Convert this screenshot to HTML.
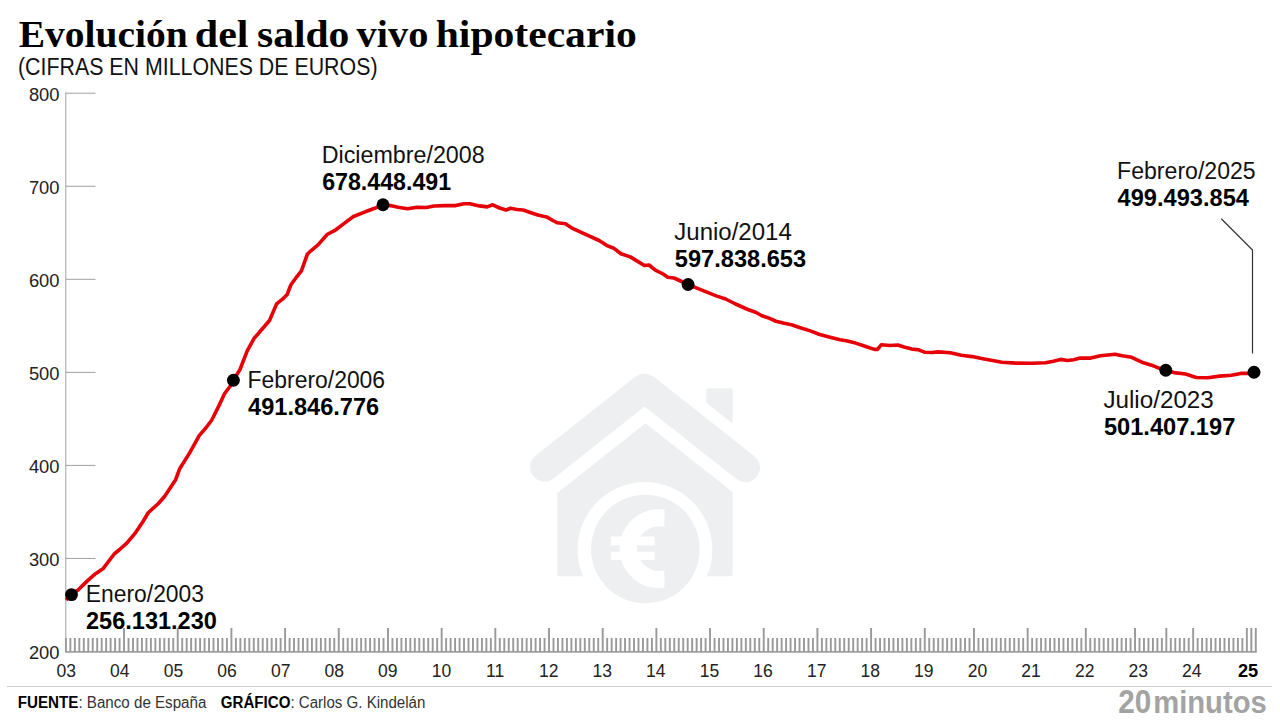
<!DOCTYPE html><html><head><meta charset="utf-8"><style>
html,body{margin:0;padding:0;background:#fff;width:1280px;height:720px;overflow:hidden}
svg{display:block}
text{font-family:"Liberation Sans",sans-serif}
</style></head><body>
<svg width="1280" height="720" viewBox="0 0 1280 720">
<rect width="1280" height="720" fill="#fff"/>
<path d="M557.3,493.0 L645.5,423.3 L732.6,492.1 L732.6,574.3 Q732.6,576.3 730.6,576.3 L559.3,576.3 Q557.3,576.3 557.3,574.3 Z" fill="#eeeff1"/>
<path d="M706.3,390.3 Q706.3,388.3 708.3,388.3 L730.7,388.3 Q732.7,388.3 732.7,390.3 L732.7,423.5 L706.3,402.8 Z" fill="#eeeff1"/>
<polyline points="544.5,467.1 644.6,388.0 745.5,467.7" fill="none" stroke="#eeeff1" stroke-width="29" stroke-linecap="round" stroke-linejoin="round"/>
<circle cx="645.0" cy="549.5" r="67.4" fill="#fff"/>
<circle cx="645.4" cy="549.0" r="54.3" fill="#eeeff1"/>
<path d="M664.4,509.34 A39.6,39.6 0 1 0 664.4,587.86 L664.4,570.29 A22.3,22.3 0 1 1 664.4,526.91 Z" fill="#fff"/>
<rect x="610.9" y="536.5" width="43.7" height="8.8" fill="#fff"/>
<rect x="610.9" y="551.8" width="43.7" height="8.1" fill="#fff"/>
<text x="18.65" y="47" font-size="37.5" font-weight="bold" textLength="169.15" lengthAdjust="spacingAndGlyphs" fill="#000" style="font-family:'Liberation Serif',serif">Evolución</text>
<text x="194.86" y="47" font-size="37.5" font-weight="bold" textLength="53.67" lengthAdjust="spacingAndGlyphs" fill="#000" style="font-family:'Liberation Serif',serif">del</text>
<text x="256.99" y="47" font-size="37.5" font-weight="bold" textLength="92.43" lengthAdjust="spacingAndGlyphs" fill="#000" style="font-family:'Liberation Serif',serif">saldo</text>
<text x="356.6" y="47" font-size="37.5" font-weight="bold" textLength="71.9" lengthAdjust="spacingAndGlyphs" fill="#000" style="font-family:'Liberation Serif',serif">vivo</text>
<text x="435.69" y="47" font-size="37.5" font-weight="bold" textLength="201.08" lengthAdjust="spacingAndGlyphs" fill="#000" style="font-family:'Liberation Serif',serif">hipotecario</text>
<text x="18" y="75" font-size="23.5" textLength="359.5" lengthAdjust="spacingAndGlyphs" fill="#111">(CIFRAS EN MILLONES DE EUROS)</text>
<line x1="65.8" y1="92.5" x2="65.8" y2="652" stroke="#a0a0a0" stroke-width="1"/>
<line x1="65.8" y1="93.20" x2="95.5" y2="93.20" stroke="#a0a0a0" stroke-width="1"/>
<line x1="65.8" y1="186.25" x2="95.5" y2="186.25" stroke="#a0a0a0" stroke-width="1"/>
<line x1="65.8" y1="279.30" x2="95.5" y2="279.30" stroke="#a0a0a0" stroke-width="1"/>
<line x1="65.8" y1="372.35" x2="95.5" y2="372.35" stroke="#a0a0a0" stroke-width="1"/>
<line x1="65.8" y1="465.40" x2="95.5" y2="465.40" stroke="#a0a0a0" stroke-width="1"/>
<line x1="65.8" y1="558.45" x2="95.5" y2="558.45" stroke="#a0a0a0" stroke-width="1"/>
<text x="28.9" y="101.10" font-size="17.5" fill="#222" textLength="30.6" lengthAdjust="spacingAndGlyphs">800</text>
<text x="28.9" y="194.15" font-size="17.5" fill="#222" textLength="30.6" lengthAdjust="spacingAndGlyphs">700</text>
<text x="28.9" y="287.20" font-size="17.5" fill="#222" textLength="30.6" lengthAdjust="spacingAndGlyphs">600</text>
<text x="28.9" y="380.25" font-size="17.5" fill="#222" textLength="30.6" lengthAdjust="spacingAndGlyphs">500</text>
<text x="28.9" y="473.30" font-size="17.5" fill="#222" textLength="30.6" lengthAdjust="spacingAndGlyphs">400</text>
<text x="28.9" y="566.35" font-size="17.5" fill="#222" textLength="30.6" lengthAdjust="spacingAndGlyphs">300</text>
<text x="28.9" y="659.40" font-size="17.5" fill="#222" textLength="30.6" lengthAdjust="spacingAndGlyphs">200</text>
<line x1="65.0" y1="651.9" x2="1256.6" y2="651.9" stroke="#a0a0a0" stroke-width="1.8"/>
<path d="M65.90,638V652M70.37,638V652M74.85,638V652M79.32,638V652M83.79,638V652M88.27,638V652M92.74,638V652M97.21,638V652M101.69,638V652M106.16,638V652M110.63,638V652M115.11,638V652M119.58,638V652M124.05,628V652M128.53,638V652M133.00,638V652M137.47,638V652M141.95,638V652M146.42,638V652M150.89,638V652M155.37,638V652M159.84,638V652M164.31,638V652M168.79,638V652M173.26,638V652M177.73,628V652M182.21,638V652M186.68,638V652M191.15,638V652M195.63,638V652M200.10,638V652M204.57,638V652M209.05,638V652M213.52,638V652M217.99,638V652M222.47,638V652M226.94,638V652M231.41,628V652M235.89,638V652M240.36,638V652M244.83,638V652M249.31,638V652M253.78,638V652M258.25,638V652M262.73,638V652M267.20,638V652M271.67,638V652M276.15,638V652M280.62,638V652M285.09,628V652M289.56,638V652M294.04,638V652M298.51,638V652M302.98,638V652M307.46,638V652M311.93,638V652M316.40,638V652M320.88,638V652M325.35,638V652M329.82,638V652M334.30,638V652M338.77,628V652M343.24,638V652M347.72,638V652M352.19,638V652M356.66,638V652M361.14,638V652M365.61,638V652M370.08,638V652M374.56,638V652M379.03,638V652M383.50,638V652M387.98,628V652M392.45,638V652M396.92,638V652M401.40,638V652M405.87,638V652M410.34,638V652M414.82,638V652M419.29,638V652M423.76,638V652M428.24,638V652M432.71,638V652M437.18,638V652M441.66,628V652M446.13,638V652M450.60,638V652M455.08,638V652M459.55,638V652M464.02,638V652M468.50,638V652M472.97,638V652M477.44,638V652M481.92,638V652M486.39,638V652M490.86,638V652M495.34,628V652M499.81,638V652M504.28,638V652M508.76,638V652M513.23,638V652M517.70,638V652M522.18,638V652M526.65,638V652M531.12,638V652M535.60,638V652M540.07,638V652M544.54,638V652M549.02,628V652M553.49,638V652M557.96,638V652M562.44,638V652M566.91,638V652M571.38,638V652M575.86,638V652M580.33,638V652M584.80,638V652M589.28,638V652M593.75,638V652M598.22,638V652M602.70,628V652M607.17,638V652M611.64,638V652M616.12,638V652M620.59,638V652M625.06,638V652M629.54,638V652M634.01,638V652M638.48,638V652M642.96,638V652M647.43,638V652M651.90,638V652M656.38,628V652M660.85,638V652M665.32,638V652M669.80,638V652M674.27,638V652M678.74,638V652M683.22,638V652M687.69,638V652M692.16,638V652M696.64,638V652M701.11,638V652M705.58,638V652M710.06,628V652M714.53,638V652M719.00,638V652M723.48,638V652M727.95,638V652M732.42,638V652M736.89,638V652M741.37,638V652M745.84,638V652M750.31,638V652M754.79,638V652M759.26,638V652M763.73,628V652M768.21,638V652M772.68,638V652M777.15,638V652M781.63,638V652M786.10,638V652M790.57,638V652M795.05,638V652M799.52,638V652M803.99,638V652M808.47,638V652M812.94,638V652M817.41,628V652M821.89,638V652M826.36,638V652M830.83,638V652M835.31,638V652M839.78,638V652M844.25,638V652M848.73,638V652M853.20,638V652M857.67,638V652M862.15,638V652M866.62,638V652M871.09,628V652M875.57,638V652M880.04,638V652M884.51,638V652M888.99,638V652M893.46,638V652M897.93,638V652M902.41,638V652M906.88,638V652M911.35,638V652M915.83,638V652M920.30,638V652M924.77,628V652M929.25,638V652M933.72,638V652M938.19,638V652M942.67,638V652M947.14,638V652M951.61,638V652M956.09,638V652M960.56,638V652M965.03,638V652M969.51,638V652M973.98,628V652M978.45,638V652M982.93,638V652M987.40,638V652M991.87,638V652M996.35,638V652M1000.82,638V652M1005.29,638V652M1009.77,638V652M1014.24,638V652M1018.71,638V652M1023.19,638V652M1027.66,628V652M1032.13,638V652M1036.61,638V652M1041.08,638V652M1045.55,638V652M1050.03,638V652M1054.50,638V652M1058.97,638V652M1063.45,638V652M1067.92,638V652M1072.39,638V652M1076.87,638V652M1081.34,638V652M1085.81,628V652M1090.29,638V652M1094.76,638V652M1099.23,638V652M1103.71,638V652M1108.18,638V652M1112.65,638V652M1117.13,638V652M1121.60,638V652M1126.07,638V652M1130.55,638V652M1135.02,628V652M1139.49,638V652M1143.97,638V652M1148.44,638V652M1152.91,638V652M1157.39,638V652M1161.86,638V652M1166.33,628V652M1170.81,638V652M1175.28,638V652M1179.75,638V652M1184.23,638V652M1188.70,638V652M1193.17,628V652M1197.64,638V652M1202.12,638V652M1206.59,638V652M1211.06,638V652M1215.54,638V652M1220.01,638V652M1224.48,638V652M1228.96,638V652M1233.43,638V652M1237.90,638V652M1242.38,638V652M1246.85,628V652M1251.32,628V652M1255.80,628V652" stroke="#999" stroke-width="1.9" fill="none"/>
<text x="66.25" y="677.2" font-size="17.5" text-anchor="middle" fill="#222">03</text>
<text x="119.85" y="677.2" font-size="17.5" text-anchor="middle" fill="#222">04</text>
<text x="173.45" y="677.2" font-size="17.5" text-anchor="middle" fill="#222">05</text>
<text x="227.05" y="677.2" font-size="17.5" text-anchor="middle" fill="#222">06</text>
<text x="280.65" y="677.2" font-size="17.5" text-anchor="middle" fill="#222">07</text>
<text x="334.25" y="677.2" font-size="17.5" text-anchor="middle" fill="#222">08</text>
<text x="387.85" y="677.2" font-size="17.5" text-anchor="middle" fill="#222">09</text>
<text x="441.45" y="677.2" font-size="17.5" text-anchor="middle" fill="#222">10</text>
<text x="495.05" y="677.2" font-size="17.5" text-anchor="middle" fill="#222">11</text>
<text x="548.65" y="677.2" font-size="17.5" text-anchor="middle" fill="#222">12</text>
<text x="602.25" y="677.2" font-size="17.5" text-anchor="middle" fill="#222">13</text>
<text x="655.85" y="677.2" font-size="17.5" text-anchor="middle" fill="#222">14</text>
<text x="709.45" y="677.2" font-size="17.5" text-anchor="middle" fill="#222">15</text>
<text x="763.05" y="677.2" font-size="17.5" text-anchor="middle" fill="#222">16</text>
<text x="816.65" y="677.2" font-size="17.5" text-anchor="middle" fill="#222">17</text>
<text x="870.25" y="677.2" font-size="17.5" text-anchor="middle" fill="#222">18</text>
<text x="923.85" y="677.2" font-size="17.5" text-anchor="middle" fill="#222">19</text>
<text x="977.45" y="677.2" font-size="17.5" text-anchor="middle" fill="#222">20</text>
<text x="1031.05" y="677.2" font-size="17.5" text-anchor="middle" fill="#222">21</text>
<text x="1084.65" y="677.2" font-size="17.5" text-anchor="middle" fill="#222">22</text>
<text x="1138.25" y="677.2" font-size="17.5" text-anchor="middle" fill="#222">23</text>
<text x="1191.85" y="677.2" font-size="17.5" text-anchor="middle" fill="#222">24</text>
<text x="1248" y="677.3" font-size="18.2" text-anchor="middle" font-weight="bold" fill="#000">25</text>
<line x1="7" y1="686.5" x2="1272" y2="686.5" stroke="#d0d0d0" stroke-width="1"/>
<text x="17.8" y="707.8" font-size="15.6" fill="#333" textLength="188.6" lengthAdjust="spacingAndGlyphs"><tspan font-weight="bold" fill="#000">FUENTE</tspan>: Banco de España</text>
<text x="220.8" y="707.8" font-size="15.6" fill="#333" textLength="204.6" lengthAdjust="spacingAndGlyphs"><tspan font-weight="bold" fill="#000">GRÁFICO</tspan>: Carlos G. Kindelán</text>
<text x="1118.3" y="713.4" font-size="33.5" font-weight="bold" fill="#a3a3a3" textLength="33" lengthAdjust="spacingAndGlyphs">20</text>
<text x="1153.2" y="713.4" font-size="32" font-weight="bold" fill="#a3a3a3" textLength="113.5" lengthAdjust="spacingAndGlyphs">minutos</text>
<polyline points="1221.25,218.75 1252.5,250 1252.5,353.5" fill="none" stroke="#333" stroke-width="1.2"/>
<polyline points="66,600 71.7,594.1 78,590 87.1,581.1 95.2,573.9 103.3,568.4 114.2,554 119.6,549.5 126.8,543.2 135.8,532.3 143,521.5 148.4,512.5 158.4,503.5 164.7,496.2 175.5,480 179.7,468.7 189.5,453.1 199.2,435.6 206,427.8 211.8,420 218.6,406.4 224.5,393.8 230.3,386 233.3,380.3 240,369.5 247.1,351.2 254.2,338.2 262.4,328.75 269.5,320.5 276.6,303.9 282.5,299.2 287.2,294.5 290.8,285 296.7,276.8 301.4,270.9 307.3,254.3 310.9,250.8 318,244.9 327.4,234.25 334.5,230.7 343.9,223.6 353.4,216.5 365.2,211.8 374.7,208.3 383,204.7 390.3,205.6 398.1,207.2 407.5,208.75 416.9,207.2 426.25,207.5 434,206 445,205.6 455.9,205.6 463.75,203.75 470,203.75 479.4,205.9 487.2,206.9 492.7,204.8 499.7,208 505.9,210 510.6,208.3 516.9,209.5 523.1,210 531,212.7 538.75,215.3 546.6,216.9 552.8,220.5 557.5,222.8 565.5,223.75 572.5,228.4 583.4,233.4 599.1,240.5 606.9,245.6 613.9,248.3 620.9,253.75 630.3,256.9 638.1,261.6 644.4,265.5 649,265 655.3,270.2 663.1,274 667.8,277.2 674,278 688.1,284.5 700.6,289.7 716.25,295.9 725.6,299 735,303.75 747.8,309.5 755.6,312.2 761.9,315.8 769.7,318.4 775.9,321.25 785.3,323.6 791.6,324.7 799.4,327.5 810.3,330.9 819.7,334.5 829.1,336.9 840,339.7 846.25,340.8 855.6,343.1 865,346.25 874.4,349.4 877.5,349.4 881.4,344.7 890,345.5 897.8,345 904,347 911.9,349.1 918.1,349.7 924.4,352.2 932.2,352.5 937.8,351.9 950.3,352.7 961.25,355.3 972.2,356.6 981.6,358.6 992.5,360.5 1001.9,362.3 1015.9,363.1 1031.6,363.3 1045.6,362.8 1053.4,361.25 1060.5,359.4 1067.5,360.5 1073.75,359.7 1080,358.1 1090.9,358.1 1100.3,355.8 1108.1,355 1115.2,354.2 1122.2,355.8 1131.7,357.3 1143.4,362.85 1151.6,365.2 1158.7,368.1 1165.8,370.2 1173.9,372.6 1185.6,374 1196.2,377.5 1207.9,377.7 1219.6,376.1 1231.3,375.2 1240.7,373.4 1247.7,373.4 1254,372.3" fill="none" stroke="#e60008" stroke-width="3.6" stroke-linejoin="round" stroke-linecap="butt"/>
<circle cx="71.5" cy="594.6" r="6.45" fill="#000"/>
<circle cx="233.4" cy="380.3" r="6.45" fill="#000"/>
<circle cx="383" cy="204.7" r="6.45" fill="#000"/>
<circle cx="688.1" cy="284.5" r="6.45" fill="#000"/>
<circle cx="1165.8" cy="370.2" r="6.45" fill="#000"/>
<circle cx="1254" cy="372.3" r="6.45" fill="#000"/>
<text x="85.8" y="602.1" font-size="23" fill="#111" textLength="118.2" lengthAdjust="spacingAndGlyphs">Enero/2003</text>
<text x="86.0" y="629.2" font-size="23" font-weight="bold" fill="#000" textLength="130.9" lengthAdjust="spacingAndGlyphs">256.131.230</text>
<text x="247.6" y="387.8" font-size="23" fill="#111" textLength="137.5" lengthAdjust="spacingAndGlyphs">Febrero/2006</text>
<text x="248.1" y="415.0" font-size="23" font-weight="bold" fill="#000" textLength="131.0" lengthAdjust="spacingAndGlyphs">491.846.776</text>
<text x="321.7" y="163.3" font-size="23" fill="#111" textLength="163.0" lengthAdjust="spacingAndGlyphs">Diciembre/2008</text>
<text x="322.2" y="189.8" font-size="23" font-weight="bold" fill="#000" textLength="128.9" lengthAdjust="spacingAndGlyphs">678.448.491</text>
<text x="674.3" y="240.1" font-size="23" fill="#111" textLength="117.5" lengthAdjust="spacingAndGlyphs">Junio/2014</text>
<text x="674.8" y="266.5" font-size="23" font-weight="bold" fill="#000" textLength="131.3" lengthAdjust="spacingAndGlyphs">597.838.653</text>
<text x="1117.1" y="178.7" font-size="23" fill="#111" textLength="138.6" lengthAdjust="spacingAndGlyphs">Febrero/2025</text>
<text x="1117.6" y="206.2" font-size="23" font-weight="bold" fill="#000" textLength="131.3" lengthAdjust="spacingAndGlyphs">499.493.854</text>
<text x="1103.4" y="408.1" font-size="23" fill="#111" textLength="110.4" lengthAdjust="spacingAndGlyphs">Julio/2023</text>
<text x="1103.9" y="435.0" font-size="23" font-weight="bold" fill="#000" textLength="131.4" lengthAdjust="spacingAndGlyphs">501.407.197</text>
</svg></body></html>
